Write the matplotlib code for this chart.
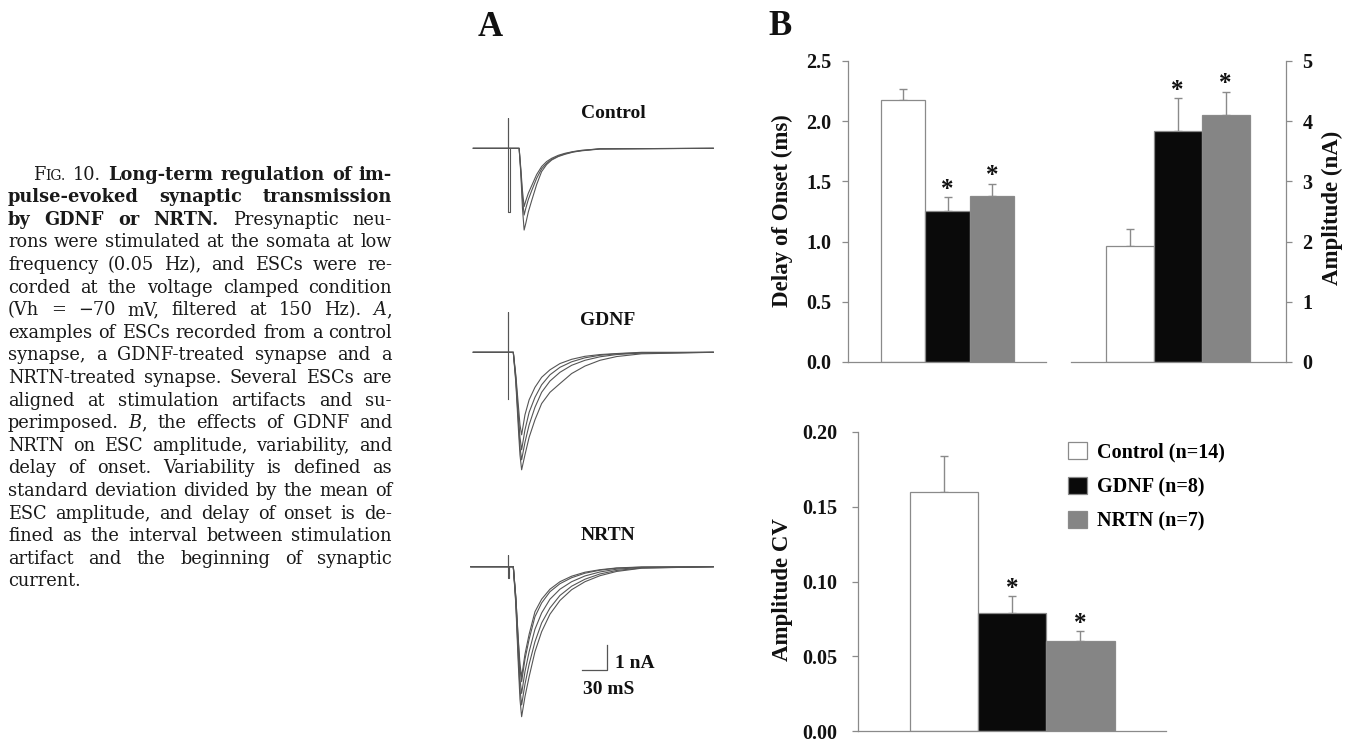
import matplotlib
matplotlib.use("Agg")
import matplotlib.pyplot as plt
from matplotlib.font_manager import FontProperties
from matplotlib.patches import Patch

W, H = 1369, 741
SERIF = ["Liberation Serif", "DejaVu Serif"]
CAPTION_FONT = "DejaVu Serif"
INK = "#111111"
EDGE = "#8a8a8a"
TRACE = "#555555"

# ---- panel B: bar values ----
GROUPS = ["Control (n=14)", "GDNF (n=8)", "NRTN (n=7)"]
BAR_COLORS = ["#ffffff", "#0a0a0a", "#858585"]
DELAY_MEAN = [2.18, 1.25, 1.38]
DELAY_SEM = [0.09, 0.12, 0.10]
AMP_MEAN = [1.93, 3.84, 4.11]
AMP_SEM = [0.28, 0.54, 0.38]
CV_MEAN = [0.160, 0.079, 0.060]
CV_SEM = [0.024, 0.011, 0.007]
SIGNIFICANT = [False, True, True]

DELAY_TICKS = [0.0, 0.5, 1.0, 1.5, 2.0, 2.5]
AMP_TICKS = [0, 1, 2, 3, 4, 5]
CV_TICKS = [0.00, 0.05, 0.10, 0.15, 0.20]

# ---- panel A: example ESC traces, time (ms) vs current (nA) ----
CTRL_T = [-42, 13, 15, 17, 19, 21, 24, 28, 34, 40, 46, 52, 60, 68, 78, 88, 110, 246]
CTRL_I = [
    [0, 0, -0.8, -1.7, -2.33, -2.1, -1.8, -1.5, -1.05, -0.73, -0.53, -0.4, -0.28, -0.2, -0.13, -0.08, -0.02, 0],
    [0, 0, -0.9, -2.0, -2.67, -2.4, -2.05, -1.7, -1.2, -0.82, -0.6, -0.44, -0.31, -0.22, -0.14, -0.09, -0.02, 0],
    [0, 0, -1.0, -2.4, -3.27, -3.0, -2.55, -2.1, -1.45, -0.93, -0.65, -0.47, -0.33, -0.24, -0.15, -0.1, -0.03, 0],
]
CTRL_ART_T = [0, 0, 0, 2, 2]
CTRL_ART_I = [0, 1.2, -2.55, -2.55, 0]

GDNF_T = [-42, 6, 9, 12, 14, 16, 20, 25, 32, 40, 50, 62, 76, 92, 110, 130, 160, 246]
GDNF_I = [
    [0, 0, -0.9, -2.1, -2.9, -3.3, -2.5, -1.9, -1.4, -1.0, -0.7, -0.45, -0.28, -0.16, -0.09, -0.05, 0, 0],
    [0, 0, -1.0, -2.5, -3.4, -3.9, -3.1, -2.4, -1.8, -1.3, -0.9, -0.6, -0.38, -0.22, -0.12, -0.06, -0.02, 0],
    [0, 0, -1.1, -2.7, -3.8, -4.3, -3.6, -2.9, -2.2, -1.6, -1.15, -0.8, -0.52, -0.32, -0.18, -0.09, -0.03, 0],
    [0, 0, -1.2, -3.0, -4.1, -4.7, -4.1, -3.4, -2.7, -2.05, -1.6, -1.25, -0.85, -0.55, -0.32, -0.17, -0.06, 0],
]
GDNF_ART_T = [0, 0, 0]
GDNF_ART_I = [0, 1.6, -1.85]

NRTN_T = [-45, 6, 9, 12, 14, 16, 20, 25, 32, 40, 50, 62, 76, 92, 110, 130, 160, 246]
NRTN_I = [
    [0, 0, -1.2, -2.9, -3.9, -4.4, -3.5, -2.7, -1.8, -1.3, -0.9, -0.6, -0.38, -0.22, -0.12, -0.05, -0.01, 0],
    [0, 0, -1.2, -3.0, -4.1, -4.6, -3.7, -2.9, -2.0, -1.45, -1.0, -0.68, -0.44, -0.26, -0.14, -0.06, -0.02, 0],
    [0, 0, -1.3, -3.3, -4.5, -5.07, -4.2, -3.4, -2.5, -1.85, -1.3, -0.9, -0.6, -0.37, -0.21, -0.1, -0.03, 0],
    [0, 0, -1.4, -3.6, -4.9, -5.53, -4.7, -3.9, -3.0, -2.25, -1.65, -1.15, -0.78, -0.5, -0.29, -0.15, -0.05, 0],
    [0, 0, -1.5, -3.9, -5.3, -6.0, -5.2, -4.4, -3.4, -2.6, -1.9, -1.35, -0.92, -0.6, -0.36, -0.19, -0.06, 0],
]
NRTN_ART_T = [0, 0, 0, 1, 1]
NRTN_ART_I = [0, 0.47, -0.47, -0.47, 0]

SCALE_MS = 30
SCALE_NA = 1

# ---- caption text; "*" marks bold words, "/" italic ones ----
CAPTION = [
    "FIG. 10. *Long-term *regulation *of *im-",
    "*pulse-evoked *synaptic *transmission",
    "*by *GDNF *or *NRTN. Presynaptic neu-",
    "rons were stimulated at the somata at low",
    "frequency (0.05 Hz), and ESCs were re-",
    "corded at the voltage clamped condition",
    "(Vh = \u221270 mV, filtered at 150 Hz). /A,",
    "examples of ESCs recorded from a control",
    "synapse, a GDNF-treated synapse and a",
    "NRTN-treated synapse. Several ESCs are",
    "aligned at stimulation artifacts and su-",
    "perimposed. /B, the effects of GDNF and",
    "NRTN on ESC amplitude, variability, and",
    "delay of onset. Variability is defined as",
    "standard deviation divided by the mean of",
    "ESC amplitude, and delay of onset is de-",
    "fined as the interval between stimulation",
    "artifact and the beginning of synaptic",
    "current.",
]

plt.rcParams["font.family"] = SERIF
plt.rcParams["font.weight"] = "bold"


def fx(px):
    return px / W


def fy(py):
    return 1 - py / H


def draw_caption(fig):
    renderer = fig.canvas.get_renderer()

    def props(style, size):
        return FontProperties(family=CAPTION_FONT, size=size,
                              weight="bold" if style == "b" else "normal",
                              style="italic" if style == "i" else "normal")

    def text_w(s, style, size):
        return renderer.get_text_width_height_descent(s, props(style, size), ismath=False)[0]

    def pieces(word):
        if word == "FIG.":
            return [("F", "r", 1.0), ("IG.", "r", 0.78)]
        if word.startswith("*"):
            return [(word[1:], "b", 1.0)]
        if word.startswith("/"):
            return [(word[1], "i", 1.0), (word[2:], "r", 1.0)]
        return [(word, "r", 1.0)]

    left, right, indent = 8, 392, 33
    base = 12.0
    space = text_w("x x", "r", base) - text_w("xx", "r", base)
    worst = 0
    for i, line in enumerate(CAPTION[:-1]):
        words = [pieces(w) for w in line.split()]
        natural = sum(text_w(t, s, base * k) for w in words for t, s, k in w)
        natural += space * (len(words) - 1)
        avail = right - left - (indent - left if i == 0 else 0)
        worst = max(worst, natural / avail)
    size = base * 0.995 / worst
    space = text_w("x x", "r", size) - text_w("xx", "r", size)

    for i, line in enumerate(CAPTION):
        words = [pieces(w) for w in line.split()]
        widths = [sum(text_w(t, s, size * k) for t, s, k in w) for w in words]
        x0 = indent if i == 0 else left
        if i < len(CAPTION) - 1 and len(words) > 1:
            gap = (right - x0 - sum(widths)) / (len(words) - 1)
        else:
            gap = space
        y = 179.6 + i * 22.6
        x = x0
        for w, wd in zip(words, widths):
            xp = x
            for t, s, k in w:
                fig.text(fx(xp), fy(y), t, fontproperties=props(s, size * k),
                         color="#1a1a1a", ha="left", va="baseline")
                xp += text_w(t, s, size * k)
            x += wd + gap


def draw_traces(ax, t, currents, art_t, art_i, offset):
    for cur in currents:
        ax.plot(t, [c + offset for c in cur], color=TRACE, lw=0.8)
    ax.plot(art_t, [c + offset for c in art_i], color=TRACE, lw=0.8)


def bar_panel(fig, rect, means, sems, xlim, ylim, ticks, fmt, pad, right=False):
    ax = fig.add_axes(rect)
    x = list(range(len(means)))
    ax.bar(x, means, width=1.0, color=BAR_COLORS, edgecolor=EDGE, linewidth=0.9, zorder=2)
    ax.errorbar(x, means, yerr=[[0] * len(sems), sems], fmt="none", ecolor=EDGE,
                elinewidth=1.0, capsize=3, capthick=1.0, zorder=1)
    for xi, m, s, sig in zip(x, means, sems, SIGNIFICANT):
        if sig:
            ax.annotate("*", (xi, m + s), xytext=(0, 1.0), textcoords="offset points",
                        ha="center", va="baseline", fontsize=18, color=INK)
    ax.set_xlim(xlim)
    ax.set_ylim(ylim)
    ax.set_xticks([])
    ax.set_yticks(ticks)
    ax.set_yticklabels([fmt.format(v) for v in ticks])
    ax.patch.set_alpha(0)
    for side in ["top", "right", "left", "bottom"]:
        ax.spines[side].set_color(EDGE)
        ax.spines[side].set_linewidth(0.9)
    ax.spines["top"].set_visible(False)
    if right:
        ax.spines["left"].set_visible(False)
        ax.yaxis.tick_right()
    else:
        ax.spines["right"].set_visible(False)
    ax.tick_params(axis="y", direction="out", length=4.5, width=0.9, color=EDGE,
                   pad=pad, labelsize=14.5, labelcolor=INK)
    return ax


def main():
    fig = plt.figure(figsize=(W / 100, H / 100), dpi=100)
    fig.patch.set_facecolor("white")

    draw_caption(fig)

    # panel A: traces share one axes; 25 px = 1 nA vertically, 25 px = 30 ms horizontally
    ax_a = fig.add_axes([fx(440), 0, fx(320), 1])
    ax_a.set_xlim((440 - 508.3) * 1.2, (760 - 508.3) * 1.2)
    ax_a.set_ylim(-(741 - 148.3) / 25, 148.3 / 25)
    ax_a.axis("off")
    draw_traces(ax_a, CTRL_T, CTRL_I, CTRL_ART_T, CTRL_ART_I, 0)
    draw_traces(ax_a, GDNF_T, GDNF_I, GDNF_ART_T, GDNF_ART_I, -(352.3 - 148.3) / 25)
    draw_traces(ax_a, NRTN_T, NRTN_I, NRTN_ART_T, NRTN_ART_I, -(566.7 - 148.3) / 25)
    sb_x, sb_y = 88, -(670 - 148.3) / 25
    ax_a.plot([sb_x, sb_x + SCALE_MS, sb_x + SCALE_MS],
              [sb_y, sb_y, sb_y + SCALE_NA], color=TRACE, lw=0.9)

    fig.text(fx(613), fy(114), "Control", ha="center", va="center", fontsize=14, color=INK)
    fig.text(fx(608), fy(320), "GDNF", ha="center", va="center", fontsize=14, color=INK)
    fig.text(fx(608), fy(535), "NRTN", ha="center", va="center", fontsize=14, color=INK)
    fig.text(fx(615), fy(663), "1 nA", ha="left", va="center", fontsize=14, color=INK)
    fig.text(fx(582.7), fy(690), "30 mS", ha="left", va="center", fontsize=14, color=INK)

    fig.text(fx(478), fy(36), "A", ha="left", va="baseline", fontsize=25, color=INK)
    fig.text(fx(768), fy(35), "B", ha="left", va="baseline", fontsize=25, color=INK)

    # panel B
    top_rect_y = fy(362)
    top_h = (362 - 61) / H
    bar_panel(fig, [fx(848), top_rect_y, fx(1045.9 - 848), top_h], DELAY_MEAN, DELAY_SEM,
              (-1.25, 3.22), (0, 2.5), DELAY_TICKS, "{:.1f}", pad=7.7)
    bar_panel(fig, [fx(1071), top_rect_y, fx(1285.8 - 1071), top_h], AMP_MEAN, AMP_SEM,
              (-1.224, 3.257), (0, 5), AMP_TICKS, "{:d}", pad=7.5, right=True)
    ax_cv = bar_panel(fig, [fx(857.7), fy(731.3), fx(1166.2 - 857.7), (731.3 - 431.7) / H],
                      CV_MEAN, CV_SEM, (-1.262, 3.257), (0, 0.2), CV_TICKS, "{:.2f}", pad=10.2)

    fig.text(fx(782.7), fy(211), "Delay of Onset (ms)", rotation=90, ha="center", va="center",
             fontsize=16.5, color=INK)
    fig.text(fx(1332), fy(208), "Amplitude (nA)", rotation=90, ha="center", va="center",
             fontsize=16.5, color=INK)
    fig.text(fx(782.7), fy(590), "Amplitude CV", rotation=90, ha="center", va="center",
             fontsize=16.5, color=INK)

    handles = [Patch(facecolor=c, edgecolor=EDGE, linewidth=0.9, label=g)
               for c, g in zip(BAR_COLORS, GROUPS)]
    ax_cv.legend(handles=handles, loc="upper left", bbox_to_anchor=(fx(1068.3), fy(442.3)),
                 bbox_transform=fig.transFigure, frameon=False, fontsize=14.5,
                 handlelength=0.915, handleheight=0.915, handletextpad=0.53,
                 labelspacing=0.7, borderpad=0, borderaxespad=0)

    fig.savefig("out.png", dpi=100, facecolor="white")
    plt.close(fig)


if __name__ == "__main__":
    main()
